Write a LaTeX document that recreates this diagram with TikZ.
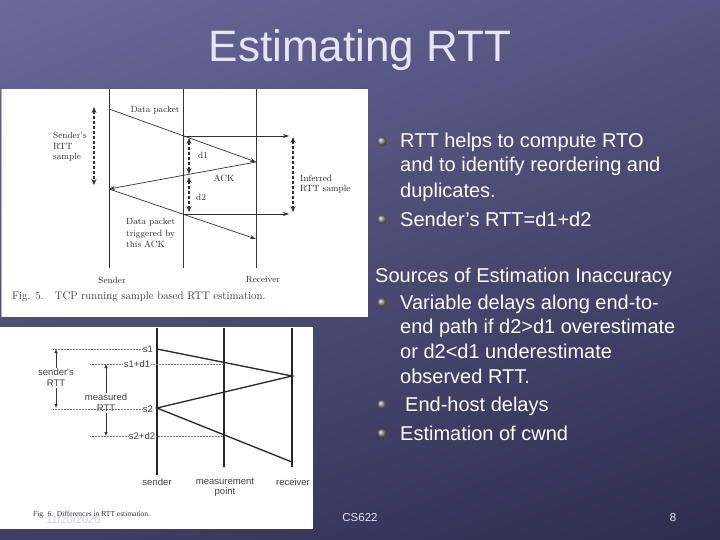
\documentclass[tikz,border=0pt]{standalone}
\usepackage{fontspec}
\newfontfamily\arial{Liberation Sans}
\newfontfamily\tnr{Liberation Serif}
\usetikzlibrary{arrows.meta,shadings}
\definecolor{bgUL}{RGB}{104,106,154}
\definecolor{bgUR}{RGB}{84,85,128}
\definecolor{bgLL}{RGB}{62,64,102}
\definecolor{bgLR}{RGB}{44,46,78}
\definecolor{titlec}{RGB}{228,228,250}
\definecolor{figline}{RGB}{50,50,50}
\definecolor{figtext}{RGB}{40,40,40}
\definecolor{footc}{RGB}{228,228,245}
\definecolor{datec}{RGB}{205,205,215}
\tikzset{
  fl/.style={figline, line width=0.7pt},
  fltip/.style={fl, -{Stealth[length=6pt,width=4pt]}},
  dar/.style={figline, line width=1.2pt, densely dashed,
    {Stealth[length=6pt,width=5pt]}-{Stealth[length=6pt,width=5pt]}},
  ftxt/.style={text=figtext, font=\fontsize{9}{10}\selectfont, inner sep=0pt},
  gl/.style={black!85, line width=1.3pt},
  dotl/.style={black!55, line width=0.5pt, densely dotted},
  garr/.style={black!80, line width=0.6pt, -{Latex[length=4pt,width=3.5pt]}},
  gtxt/.style={text=black!75, font=\arial\fontsize{9.5}{11}\selectfont, inner sep=1pt},
  body/.style={text=white, font=\arial\fontsize{20}{24}\selectfont, anchor=base west, inner sep=0pt},
  bul/.style={ball color=gray!90, draw=none},
}
\begin{document}
\begin{tikzpicture}[x=1pt,y=-1pt]
\useasboundingbox (0,0) rectangle (720,540);
\shade[upper left=bgUL, upper right=bgUR, lower left=bgLL, lower right=bgLR] (0,0) rectangle (720,540);

% title
\node[text=titlec, font=\arial\fontsize{44}{48}\selectfont, anchor=base, inner sep=0pt] (title) at (360,62) {Estimating RTT};

% ---------- Figure 5 ----------
\fill[white] (2,89) rectangle (368,317);
\draw[gray!60, line width=0.6pt] (1,89) -- (1,317);
\coordinate (sTop) at (109,89); \coordinate (sBot) at (109,268);
\coordinate (mTop) at (183,89); \coordinate (mBot) at (183,268);
\coordinate (rTop) at (256,89); \coordinate (rBot) at (256,268);
\draw[fl] (sTop) -- (sBot);
\draw[fl] (mTop) -- (mBot);
\draw[fl] (rTop) -- (rBot);
\coordinate (p1) at (109,109); \coordinate (p2) at (256,162);
\coordinate (p3) at (109,189); \coordinate (p4) at (256,239);
\draw[fltip] (p1) -- (p2);
\draw[fltip] (p2) -- (p3);
\draw[fltip] (p3) -- (p4);
\coordinate (x1) at (183,136); \coordinate (x1e) at (289,136);
\coordinate (x3) at (183,214); \coordinate (x3e) at (289,214);
\draw[fltip] (x1) -- (x1e);
\draw[fltip] (x3) -- (x3e);
\coordinate (d1a) at (189,138); \coordinate (d1b) at (189,174);
\coordinate (d2a) at (189,177); \coordinate (d2b) at (189,212);
\draw[dar] (d1a) -- (d1b);
\draw[dar] (d2a) -- (d2b);
\coordinate (sra) at (94,107); \coordinate (srb) at (94,185);
\draw[dar] (sra) -- (srb);
\coordinate (ira) at (293,137); \coordinate (irb) at (293,212);
\draw[dar] (ira) -- (irb);
\node[ftxt] (dp) at (155,110) {Data packet};
\node[ftxt, align=left, anchor=west, font=\fontsize{9}{10.5}\selectfont] (srtt) at (53,147) {Sender's\\RTT\\sample};
\node[ftxt] (d1) at (203,155) {d1};
\node[ftxt] (ack) at (224,178) {ACK};
\node[ftxt] (d2) at (201,197) {d2};
\node[ftxt, align=left, anchor=west, font=\fontsize{9}{10.5}\selectfont] (inf) at (300,184) {Inferred\\RTT sample};
\node[ftxt, align=left, anchor=west, font=\fontsize{9}{11.5}\selectfont] (dpt) at (126,233) {Data packet\\triggered by\\this ACK};
\node[ftxt] (sndr) at (112,280) {Sender};
\node[ftxt] (rcvr) at (263,280) {Receiver};
\node[ftxt, anchor=west, font=\fontsize{11}{12}\selectfont, text=black!80] (cap5) at (12,297) {Fig. 5.\quad TCP running sample based RTT estimation.};

% ---------- Figure 6 ----------
\fill[white] (0,327) rectangle (313,529);
\coordinate (gsT) at (157,328); \coordinate (gsB) at (157,475);
\coordinate (gmT) at (224,328); \coordinate (gmB) at (224,467);
\coordinate (grT) at (292,328); \coordinate (grB) at (292,467);
\draw[gl] (gsT) -- (gsB);
\draw[gl] (gmT) -- (gmB);
\draw[gl] (grT) -- (grB);
\coordinate (q1) at (157,349); \coordinate (q2) at (292,376);
\coordinate (q3) at (157,408); \coordinate (q4) at (292,462);
\draw[gl] (q1) -- (q2) -- (q3) -- (q4);
% labels on dotted lines
\node[gtxt] (ls1) at (148,349) {s1};
\node[gtxt] (ls1d1) at (137,364) {s1+d1};
\node[gtxt] (ls2) at (148,409) {s2};
\node[gtxt] (ls2d2) at (142,436) {s2+d2};
\coordinate (ds1) at (53,349);
\coordinate (ds1d1) at (90,364); \coordinate (ms1d1) at (224,364);
\coordinate (ds2) at (53,409);
\coordinate (ds2d2) at (90,436); \coordinate (ms2d2) at (224,436);
\draw[dotl] (ds1) -- (ls1.west);
\draw[dotl] (ds1d1) -- (ls1d1.west);
\draw[dotl] (ls1d1.east) -- (ms1d1);
\draw[dotl] (ds2) -- (ls2.west);
\draw[dotl] (ds2d2) -- (ls2d2.west);
\draw[dotl] (ls2d2.east) -- (ms2d2);
% RTT arrows
\node[gtxt, align=center, font=\arial\fontsize{9.5}{11}\selectfont] (srttl) at (56,378) {sender's\\RTT};
\coordinate (srT) at (56,349); \coordinate (srB) at (56,408);
\draw[garr] (srttl.north) -- (srT);
\draw[garr] (srttl.south) -- (srB);
\node[gtxt, align=center, font=\arial\fontsize{9.5}{11}\selectfont] (mrttl) at (106,403) {measured\\RTT};
\coordinate (mrT) at (106,364); \coordinate (mrB) at (106,436);
\draw[garr] (mrttl.north) -- (mrT);
\draw[garr] (mrttl.south) -- (mrB);
\node[gtxt] (gsl) at (157,482) {sender};
\node[gtxt, align=center, font=\arial\fontsize{9.5}{10}\selectfont] (gml) at (225,487) {measurement\\point};
\node[gtxt] (grl) at (293,482) {receiver};
\node[anchor=base west, inner sep=0pt, text=black!80, font=\tnr\fontsize{7.5}{9}\selectfont] (cap6) at (33,516) {Fig. 6.\enspace Differences in RTT estimation.};

% ---------- Right text ----------
\node[body] (t1) at (400,148) {RTT helps to compute RTO};
\node[body] (t2) at (400,172) {and to identify reordering and};
\node[body] (t3) at (400,197) {duplicates.};
\node[body] (t4) at (400,226) {Sender’s RTT=d1+d2};
\node[body] (t5) at (375,282) {Sources of Estimation Inaccuracy};
\node[body] (t6) at (400,309) {Variable delays along end-to-};
\node[body] (t7) at (400,333) {end path if d2>d1 overestimate};
\node[body] (t8) at (400,358) {or d2<d1 underestimate};
\node[body] (t9) at (400,383) {observed RTT.};
\node[body] (t10) at (405,411) {End-host delays};
\node[body] (t11) at (400,440) {Estimation of cwnd};
\foreach \yy in {141.5,219.5,302.5,404.5,433.5}{
  \shade[bul] (382,\yy) circle (4.5);
}

% ---------- Footer ----------
\node[anchor=base west, inner sep=0pt, text=datec, font=\arial\fontsize{11}{12}\selectfont] (date) at (46,523) {11/20/2020};
\node[anchor=base, inner sep=0pt, text=footc, font=\arial\fontsize{11.5}{12}\selectfont] (foot) at (360,521) {CS622};
\node[anchor=base, inner sep=0pt, text=footc, font=\arial\fontsize{11.5}{12}\selectfont] (pg) at (673,521) {8};
\end{tikzpicture}
\end{document}
